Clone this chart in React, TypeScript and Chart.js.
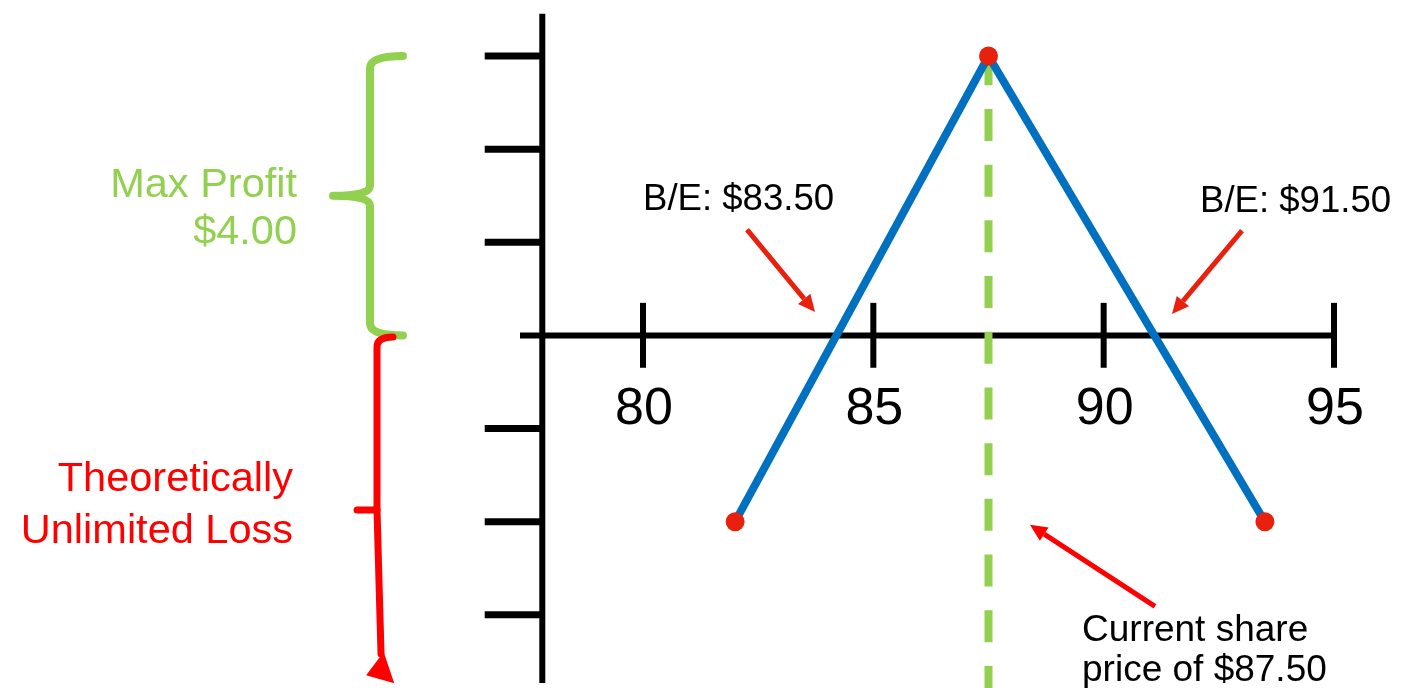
import React, { useEffect, useRef } from "react";
import { Chart, registerables } from "chart.js";

Chart.register(...registerables);

// ---- data ----
const payoffPrices = [82, 87.5, 93.5];
const payoffValues = [-2, 3, -2];
const currentPrice = 87.5;
const currentPriceLineTop = 3.03;
const currentPriceLineBottom = -3.8;
const xTickValues = [80, 85, 90, 95];
const xTickLabels = ["80", "85", "90", "95"];
const yTickValues = [3, 2, 1, -1, -2, -3];
const breakEvenLow = ["B/E: $83.50"];
const breakEvenHigh = ["B/E: $91.50"];
const profitLabel = ["Max Profit", "$4.00"];
const lossLabel = ["Theoretically", "Unlimited Loss"];
const priceLabel = ["Current share", "price of $87.50"];

// ---- styles ----
const BLUE = "#0070c0";
const GREEN = "#92d050";
const DOT = "#e8210e";
const RED = "#ff0000";
const ARROW = "#ea200e";
const FONT = "'Liberation Sans', Arial, Helvetica, sans-serif";

const decorPlugin = {
  id: "payoffDecor",
  beforeDatasetsDraw(chart: any) {
    const { ctx } = chart;
    const xs = chart.scales.x;
    const ys = chart.scales.y;
    const X = (v: number) => xs.getPixelForValue(v);
    const Y = (v: number) => ys.getPixelForValue(v);
    const seg = (x1: number, y1: number, x2: number, y2: number) => {
      ctx.beginPath();
      ctx.moveTo(x1, y1);
      ctx.lineTo(x2, y2);
      ctx.stroke();
    };
    ctx.save();
    ctx.strokeStyle = "#000";
    ctx.lineCap = "butt";
    // vertical axis
    ctx.lineWidth = 6;
    seg(X(77.814), Y(3.454), X(77.814), Y(-3.731));
    // its ticks (to the left)
    ctx.lineWidth = 7;
    yTickValues.forEach((v) => seg(X(76.564), Y(v), X(77.814), Y(v)));
    // horizontal axis at zero
    ctx.lineWidth = 6;
    seg(X(77.33), Y(0), X(95.065), Y(0));
    xTickValues.forEach((v) => seg(X(v), Y(0.35), X(v), Y(-0.347)));
    // tick labels
    ctx.fillStyle = "#000";
    ctx.font = `52px ${FONT}`;
    ctx.textAlign = "center";
    ctx.textBaseline = "alphabetic";
    xTickValues.forEach((v, i) => ctx.fillText(xTickLabels[i], X(v) + 1, Y(-0.955)));
    ctx.restore();
  },
  afterDatasetsDraw(chart: any) {
    const { ctx } = chart;
    const xs = chart.scales.x;
    const ys = chart.scales.y;
    const X = (v: number) => xs.getPixelForValue(v);
    const Y = (v: number) => ys.getPixelForValue(v);
    ctx.save();

    // text annotations
    ctx.textBaseline = "alphabetic";
    ctx.fillStyle = "#000";
    ctx.font = `36.6px ${FONT}`;
    ctx.textAlign = "left";
    ctx.fillText(breakEvenLow[0], X(80), Y(1.3505));
    ctx.fillText(breakEvenHigh[0], X(92.091), Y(1.329));
    ctx.font = `37px ${FONT}`;
    ctx.fillText(priceLabel[0], X(89.53), Y(-3.283));
    ctx.fillText(priceLabel[1], X(89.53), Y(-3.71));

    ctx.font = `41.5px ${FONT}`;
    ctx.textAlign = "right";
    ctx.fillStyle = GREEN;
    ctx.fillText(profitLabel[0], X(72.489), Y(1.489));
    ctx.fillText(profitLabel[1], X(72.489), Y(0.977));
    ctx.fillStyle = RED;
    ctx.fillText(lossLabel[0], X(72.402), Y(-1.671));
    ctx.fillText(lossLabel[1], X(72.402), Y(-2.226));

    // arrows
    const arrow = (x1: number, y1: number, x2: number, y2: number, color: string) => {
      const ax = X(x1), ay = Y(y1), bx = X(x2), by = Y(y2);
      const ang = Math.atan2(by - ay, bx - ax);
      const headLen = 17, headW = 8;
      const baseX = bx - headLen * Math.cos(ang);
      const baseY = by - headLen * Math.sin(ang);
      ctx.strokeStyle = color;
      ctx.fillStyle = color;
      ctx.lineWidth = 5;
      ctx.lineCap = "butt";
      ctx.beginPath();
      ctx.moveTo(ax, ay);
      ctx.lineTo(baseX, baseY);
      ctx.stroke();
      ctx.beginPath();
      ctx.moveTo(bx, by);
      ctx.lineTo(baseX + headW * Math.sin(ang), baseY - headW * Math.cos(ang));
      ctx.lineTo(baseX - headW * Math.sin(ang), baseY + headW * Math.cos(ang));
      ctx.closePath();
      ctx.fill();
    };
    arrow(82.258, 1.137, 83.734, 0.251, ARROW);
    arrow(93.003, 1.126, 91.483, 0.2295, ARROW);
    arrow(91.114, -2.909, 88.4, -2.034, RED);

    // green brace (max profit)
    {
      const xr = X(74.79), xv = X(74.074), xt = X(73.271);
      const yt = Y(3), yb = Y(0), ym = Y(1.5);
      ctx.strokeStyle = GREEN;
      ctx.lineWidth = 8;
      ctx.lineCap = "round";
      ctx.lineJoin = "round";
      ctx.beginPath();
      ctx.moveTo(xr, yt);
      ctx.quadraticCurveTo(xv, yt, xv, yt + 12);
      ctx.lineTo(xv, ym - 10);
      ctx.quadraticCurveTo(xv, ym, xt, ym);
      ctx.moveTo(xt, ym);
      ctx.quadraticCurveTo(xv, ym, xv, ym + 10);
      ctx.lineTo(xv, yb - 12);
      ctx.quadraticCurveTo(xv, yb, xr, yb);
      ctx.stroke();
    }
    // red brace (loss) with arrow
    {
      const xr = X(74.573), xv = X(74.226), xt = X(73.792);
      const yt = Y(-0.016), ym = Y(-1.874);
      const xe = X(74.313), ye = Y(-3.42);
      ctx.strokeStyle = RED;
      ctx.fillStyle = RED;
      ctx.lineWidth = 7;
      ctx.lineCap = "round";
      ctx.lineJoin = "round";
      ctx.beginPath();
      ctx.moveTo(xr, yt);
      ctx.quadraticCurveTo(xv, yt, xv, yt + 10);
      ctx.lineTo(xv, ym);
      ctx.lineTo(xe, ye);
      ctx.stroke();
      ctx.beginPath();
      ctx.moveTo(xv, ym);
      ctx.quadraticCurveTo(xv - 4, ym, xt, ym);
      ctx.stroke();
      ctx.beginPath();
      ctx.moveTo(X(74.37), Y(-3.40));
      ctx.lineTo(X(73.99), Y(-3.65));
      ctx.lineTo(X(74.6), Y(-3.735));
      ctx.closePath();
      ctx.fill();
    }
    ctx.restore();
  },
};

export default function App() {
  const canvasRef = useRef<HTMLCanvasElement | null>(null);

  useEffect(() => {
    const canvas = canvasRef.current;
    if (!canvas) return;
    const payoff = payoffPrices.map((p, i) => ({ x: p, y: payoffValues[i] }));
    const currentLine = [
      { x: currentPrice, y: currentPriceLineTop },
      { x: currentPrice, y: currentPriceLineBottom },
    ];
    const chart = new Chart(canvas, {
      type: "line",
      data: {
        datasets: [
          {
            data: payoff,
            borderColor: BLUE,
            borderWidth: 8,
            tension: 0,
            pointRadius: 9.5,
            pointHoverRadius: 9.5,
            pointBackgroundColor: DOT,
            pointBorderColor: DOT,
            pointBorderWidth: 0,
            clip: false,
          } as any,
          {
            data: currentLine,
            borderColor: GREEN,
            borderWidth: 8,
            borderDash: [32, 23.7],
            borderCapStyle: "butt",
            pointRadius: 0,
            pointHoverRadius: 0,
            clip: false,
          } as any,
        ],
      },
      options: {
        animation: false,
        responsive: false,
        devicePixelRatio: 1,
        events: [],
        layout: { padding: { left: 458.73, right: 21.93, top: 5.67, bottom: 17.3 } },
        plugins: { legend: { display: false }, tooltip: { enabled: false } },
        scales: {
          x: { type: "linear", min: 76, max: 96, display: false },
          y: { type: "linear", min: -3.6, max: 3.5, display: false },
        },
      },
      plugins: [decorPlugin],
    });
    return () => chart.destroy();
  }, []);

  return (
    <div style={{ position: "fixed", left: 0, top: 0, width: 1402, height: 688, background: "#fff" }}>
      <canvas ref={canvasRef} width={1402} height={688} style={{ display: "block" }} />
    </div>
  );
}
